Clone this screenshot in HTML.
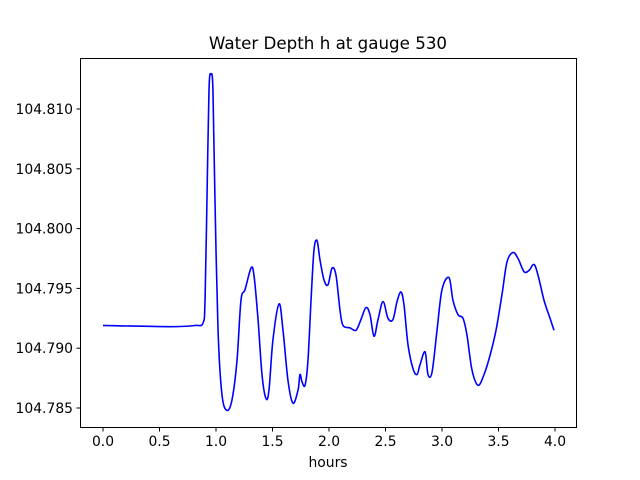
<!DOCTYPE html>
<html><head><meta charset="utf-8"><style>
body{margin:0;background:#fff;}
svg{display:block;font-family:"DejaVu Sans","Liberation Sans",sans-serif;}
</style></head><body>
<svg width="640" height="480" id="c">
<rect width="640" height="480" fill="#fff"/>
<text x="328" y="49" font-size="16.7" text-anchor="middle">Water Depth h at gauge 530</text>
<text x="328" y="467" font-size="13.9" text-anchor="middle">hours</text>
<g id="ticks"></g>
<path id="line" fill="none" stroke="#0000ff" stroke-width="1.6"/>
<rect x="80.5" y="58.5" width="496" height="369" fill="none" stroke="#000" stroke-width="1"/>
</svg>
<script>
const hours=[0,0.593,0.814,0.885,0.903,0.920,0.938,0.956,0.973,0.991,1.018,1.053,1.097,1.142,1.186,1.221,1.257,1.310,1.336,1.372,1.407,1.442,1.469,1.504,1.558,1.593,1.637,1.681,1.726,1.743,1.761,1.788,1.814,1.841,1.867,1.894,1.920,1.956,1.991,2.027,2.062,2.097,2.124,2.186,2.239,2.283,2.327,2.363,2.398,2.434,2.478,2.522,2.566,2.602,2.637,2.664,2.699,2.743,2.779,2.805,2.850,2.876,2.912,2.956,3.000,3.062,3.097,3.142,3.186,3.221,3.265,3.319,3.372,3.425,3.478,3.531,3.575,3.628,3.673,3.726,3.770,3.814,3.850,3.903,3.956,3.991];
const depth=[104.7919,104.7918,104.7919,104.7921,104.7940,104.8024,104.8116,104.8129,104.8116,104.8024,104.7915,104.7861,104.7848,104.7857,104.7890,104.7940,104.7949,104.7967,104.7961,104.7924,104.7878,104.7858,104.7865,104.7907,104.7937,104.7915,104.7873,104.7854,104.7865,104.7878,104.7872,104.7869,104.7890,104.7940,104.7982,104.7990,104.7974,104.7957,104.7953,104.7967,104.7961,104.7932,104.7919,104.7917,104.7915,104.7924,104.7934,104.7928,104.7910,104.7924,104.7939,104.7925,104.7924,104.7939,104.7947,104.7936,104.7903,104.7883,104.7878,104.7886,104.7897,104.7878,104.7880,104.7915,104.7949,104.7959,104.7940,104.7928,104.7925,104.7911,104.7882,104.7869,104.7878,104.7894,104.7915,104.7945,104.7972,104.7980,104.7975,104.7964,104.7965,104.7970,104.7961,104.7940,104.7925,104.7915];
const xTicks=[0,0.5,1,1.5,2,2.5,3,3.5,4];
const xTickLabels=["0.0","0.5","1.0","1.5","2.0","2.5","3.0","3.5","4.0"];
const yTicks=[104.785,104.790,104.795,104.800,104.805,104.810];
const yTickLabels=["104.785","104.790","104.795","104.800","104.805","104.810"];
const X=h=>103+h*113;
const Y=v=>109+(104.810-v)/0.005*59.8;
const NS="http://www.w3.org/2000/svg";
const g=document.getElementById('ticks');
function mk(t,a){const e=document.createElementNS(NS,t);for(const k in a)e.setAttribute(k,a[k]);return e;}
xTicks.forEach((t,i)=>{const x=X(t);
 const l=mk('line',{x1:x,x2:x,y1:427.5,y2:431.5,stroke:'#000'});
 
 
 g.appendChild(l);
 const tx=mk('text',{x:x,y:446,'font-size':13.9,'text-anchor':'middle'});tx.textContent=xTickLabels[i];
 
 
 g.appendChild(tx);});
yTicks.forEach((t,i)=>{const y=Y(t);
 const l=mk('line',{x1:76.5,x2:80.5,y1:y,y2:y,stroke:'#000'});
 
 
 g.appendChild(l);
 const tx=mk('text',{x:73,y:y+5,'font-size':13.9,'text-anchor':'end'});tx.textContent=yTickLabels[i];
 
 
 g.appendChild(tx);});
const P=hours.map((h,i)=>[X(h),Y(depth[i])]);
let d='M'+P[0][0]+','+P[0][1];
for(let i=0;i<P.length-1;i++){const p0=P[Math.max(0,i-1)],p1=P[i],p2=P[i+1],p3=P[Math.min(P.length-1,i+2)];
 const c1=[p1[0]+(p2[0]-p0[0])/6,p1[1]+(p2[1]-p0[1])/6],c2=[p2[0]-(p3[0]-p1[0])/6,p2[1]-(p3[1]-p1[1])/6];
 d+=` C${c1[0]},${c1[1]} ${c2[0]},${c2[1]} ${p2[0]},${p2[1]}`;}
document.getElementById('line').setAttribute('d',d);
</script>
</body></html>
